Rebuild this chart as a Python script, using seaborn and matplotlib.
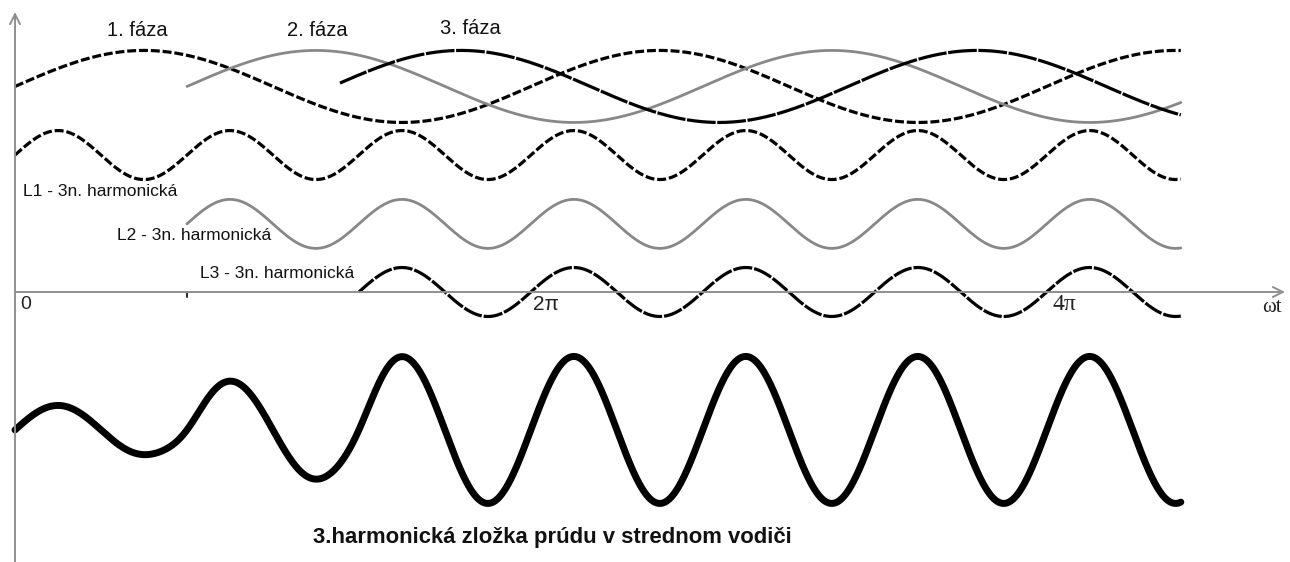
import numpy as np
import pandas as pd
import matplotlib
matplotlib.use("Agg")
import matplotlib.pyplot as plt
import seaborn as sns

# ---------------- values (angles in units of pi) ----------------
phase_labels = ["1. fáza", "2. fáza", "3. fáza"]
phase_start_pi = [0.0, 0.667, 1.26]      # where each fundamental curve begins
phase_shift_pi = [0.0, 0.667, 1.23]      # upward zero crossing of each fundamental
phase_amplitude = 1.47
phase_offset = 8.39

harmonic_labels = ["L1 - 3n. harmonická", "L2 - 3n. harmonická", "L3 - 3n. harmonická"]
harmonic_start_pi = [0.0, 2 / 3, 4 / 3]
harmonic_offset = [5.59, 2.78, 0.0]
harmonic_amplitude = 1.0
harmonic_order = 3

sum_offset = -5.63
sum_blend_rad = 0.22        # how gradually the drawn sum grows at each new harmonic
sum_label = "3.harmonická zložka prúdu v strednom vodiči"

end_pi = 4.52
tick_labels = ["0", "2π", "4π"]
tick_pos_pi = [0.0, 2.0, 4.0]
axis_label = "ωt"

# ---------------- figure ----------------
sns.set_style("white")
plt.rcParams["font.family"] = ["Liberation Sans", "DejaVu Sans"]

fig = plt.figure(figsize=(12.9, 5.62), dpi=100)
ax = fig.add_axes([0, 0, 1, 1])
PX = 82.1      # pixels per radian
PY = 24.5      # pixels per unit
ax.set_xlim(-15 / PX, (1290 - 15) / PX)
ax.set_ylim((292 - 562) / PY, 292 / PY)
ax.set_axis_off()

pi = np.pi
end = end_pi * pi

def draw(x, y, **kw):
    df = pd.DataFrame({"wt": x, "val": y})
    sns.lineplot(data=df, x="wt", y="val", ax=ax, estimator=None, sort=False, **kw)

# fundamentals
fund_styles = [
    dict(color="black", linewidth=2.3, linestyle=(0, (2.8, 0.9))),
    dict(color="#888888", linewidth=2.0, linestyle="-"),
    dict(color="black", linewidth=2.3, linestyle=(0, (9.0, 0.5))),
]
for s, sh, st in zip(phase_start_pi, phase_shift_pi, fund_styles):
    x = np.linspace(s * pi, end, 800)
    draw(x, phase_offset + phase_amplitude * np.sin(x - sh * pi), **st)

# third harmonics
harm_styles = [
    dict(color="black", linewidth=2.3, linestyle=(0, (2.8, 0.9))),
    dict(color="#888888", linewidth=2.0, linestyle="-"),
    dict(color="black", linewidth=2.3, linestyle=(0, (6.0, 0.6))),
]
for s, off, st in zip(harmonic_start_pi, harmonic_offset, harm_styles):
    x = np.linspace(s * pi, end, 800)
    draw(x, off + harmonic_amplitude * np.sin(harmonic_order * (x - s * pi)), **st)

# neutral conductor current: the in-phase third harmonics add up
xs = np.linspace(0, end, 2400)
count = np.zeros_like(xs)
for s in harmonic_start_pi:
    count += (xs >= s * pi).astype(float)
dx = xs[1] - xs[0]
k = np.arange(-int(4 * sum_blend_rad / dx), int(4 * sum_blend_rad / dx) + 1) * dx
kern = np.exp(-0.5 * (k / sum_blend_rad) ** 2)
kern /= kern.sum()
pad = len(k) // 2
padded = np.concatenate([np.full(pad, count[0]), count, np.full(pad, count[-1])])
envelope = np.convolve(padded, kern, mode="valid")
total = harmonic_amplitude * envelope * np.sin(harmonic_order * xs)
draw(xs, sum_offset + total, color="black", linewidth=5.0, linestyle="-")

# axes with arrows
axis_col = "#8f8f8f"
ax.annotate("", xy=((1285 - 15) / PX, 0), xytext=(0, 0),
            arrowprops=dict(arrowstyle="->", color=axis_col, lw=1.4,
                            mutation_scale=18, shrinkA=0, shrinkB=0))
ax.annotate("", xy=(0, (292 - 12) / PY), xytext=(0, (292 - 565) / PY),
            arrowprops=dict(arrowstyle="->", color=axis_col, lw=1.4,
                            mutation_scale=18, shrinkA=0, shrinkB=0))
ax.plot([harmonic_start_pi[1] * pi] * 2, [0, -0.2], color="#333333", lw=1.5)

# texts
phase_text_x = [107, 287, 440]
phase_text_y = [30, 30, 28]
for lab, xp, yp in zip(phase_labels, phase_text_x, phase_text_y):
    ax.text((xp - 15) / PX, (292 - yp) / PY, lab, fontsize=14.5,
            ha="left", va="center", color="#111111")

harm_text_x = [23, 117, 200]
harm_text_y = [191, 236, 273]
for lab, xp, yp in zip(harmonic_labels, harm_text_x, harm_text_y):
    ax.text((xp - 15) / PX, (292 - yp) / PY, lab, fontsize=12.5,
            ha="left", va="center", color="#111111")

tick_fonts = [("Liberation Sans", 14), ("Liberation Sans", 15), ("Liberation Serif", 17)]
tick_dx = [5, 2, 6]
for lab, p, (fam, fs), dx_ in zip(tick_labels, tick_pos_pi, tick_fonts, tick_dx):
    ax.text(p * pi + dx_ / PX, -12.5 / PY, lab, fontsize=fs, family=[fam, "DejaVu Serif"],
            ha="left", va="center", color="#222222")

ax.text((1262 - 15) / PX, -16 / PY, axis_label, fontsize=15,
        family=["Liberation Serif", "DejaVu Serif"], ha="left", va="center", color="#222222")

ax.text((313 - 15) / PX, (292 - 537) / PY, sum_label, fontsize=15.9, fontweight="bold",
        ha="left", va="center", color="#111111")

fig.savefig("out.png", dpi=100, facecolor="white")
